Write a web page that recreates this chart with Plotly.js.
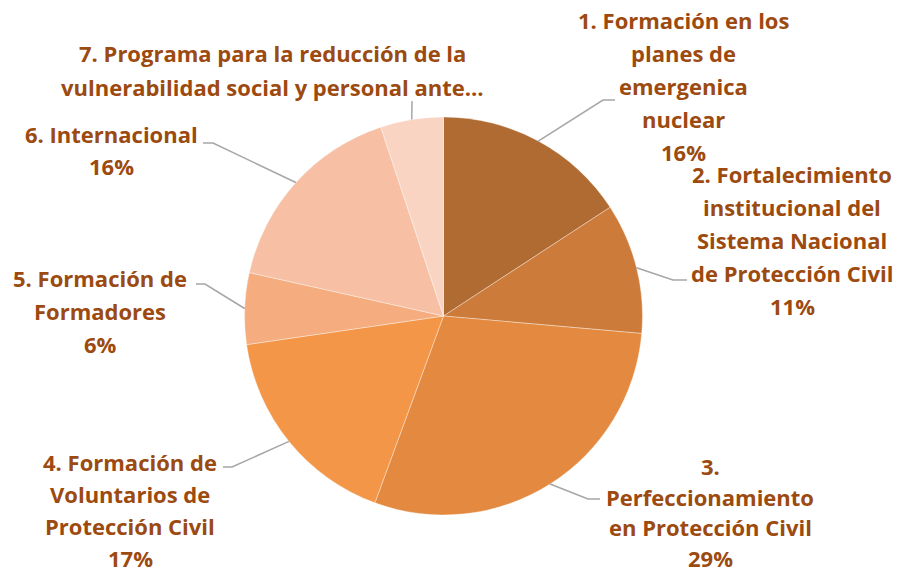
<!DOCTYPE html>
<html>
<head>
<meta charset="utf-8">
<script src="https://cdn.plot.ly/plotly-3.0.1.min.js"></script>
<style>html,body{margin:0;padding:0;background:#fff;}#chart{width:898px;height:572px;}</style>
</head>
<body>
<div id="chart"></div>
<script>
// Data
const categories = [
  "1. Formación en los planes de emergenica nuclear",
  "2. Fortalecimiento institucional del Sistema Nacional de Protección Civil",
  "3. Perfeccionamiento en Protección Civil",
  "4. Formación de Voluntarios de Protección Civil",
  "5. Formación de Formadores",
  "6. Internacional",
  "7. Programa para la reducción de la vulnerabilidad social y personal ante…"
];
const values = [15.8, 10.6, 29.2, 17.1, 5.8, 16.4, 5.1];
// label lines as displayed (wrapped like the reference)
const labelLines = [
  ["1. Formación en los", "planes de", "emergenica", "nuclear"],
  ["2. Fortalecimiento", "institucional del", "Sistema Nacional", "de Protección Civil"],
  ["3.", "Perfeccionamiento", "en Protección Civil"],
  ["4. Formación de", "Voluntarios de", "Protección Civil"],
  ["5. Formación de", "Formadores"],
  ["6. Internacional"],
  ["7. Programa para la reducción de la", "vulnerabilidad social y personal ante…"]
];
const showPercent = [true, true, true, true, true, true, false];
const colors = ["#AF6B31", "#CC7B3A", "#E38940", "#F49648", "#F5AD7F", "#F7C0A5", "#F9D4C3"];

// Layout (pixels)
const W = 898, H = 572;
const cx = 443.5, cy = 316, R = 199;
const labelPos = [
  {x: 683, y: 20, dy: 33},
  {x: 792, y: 174, dy: 33},
  {x: 710, y: 466, dy: 30.7},
  {x: 130, y: 462, dy: 32},
  {x: 100, y: 278, dy: 33},
  {x: 111, y: 134, dy: 32},
  {x: 272, y: 53, dy: 34}
];
const leaders = [
  [[603, 100], [615, 100]],
  [[673, 280], [687, 280]],
  [[588, 499], [600, 499]],
  [[232, 467], [223, 467]],
  [[205, 284], [196, 284]],
  [[213, 143], [203, 143]],
  [[412, 101], [412, 101]]
];

const total = values.reduce((a, b) => a + b, 0);
const px = x => x / W;
const py = y => 1 - y / H;

const annotations = [];
const shapes = [];
let cum = 0;
values.forEach((v, i) => {
  const mid = (cum + v / 2) / total * 2 * Math.PI;
  cum += v;
  const ex = cx + R * Math.sin(mid), ey = cy - R * Math.cos(mid);
  const pts = [[ex, ey]].concat(leaders[i]);
  const path = "M " + pts.map(p => px(p[0]) + "," + py(p[1])).join(" L ");
  shapes.push({type: "path", xref: "paper", yref: "paper", path: path,
    line: {color: "#A6A6A6", width: 1.5}});
  const lines = labelLines[i].concat(showPercent[i] ? [Math.round(v / total * 100) + "%"] : []);
  const lp = labelPos[i];
  lines.forEach((t, k) => {
    annotations.push({xref: "paper", yref: "paper", x: px(lp.x), y: py(lp.y + k * lp.dy),
      xanchor: "center", yanchor: "middle", showarrow: false, text: t,
      font: {family: "'Open Sans', sans-serif", size: 22, color: "#9C4A0F", weight: "bold"}});
  });
});

const trace = {
  type: "pie",
  labels: categories,
  values: values,
  sort: false,
  direction: "clockwise",
  rotation: 0,
  textinfo: "none",
  hoverinfo: "label+percent",
  marker: {colors: colors, line: {color: "rgba(255,255,255,0.45)", width: 0.8}},
  domain: {x: [(cx - R) / W, (cx + R) / W], y: [(H - cy - R) / H, (H - cy + R) / H]},
  showlegend: false
};

Plotly.newPlot("chart", [trace], {
  width: W, height: H,
  margin: {l: 0, r: 0, t: 0, b: 0},
  paper_bgcolor: "#fff",
  showlegend: false,
  annotations: annotations,
  shapes: shapes
}, {displayModeBar: false, staticPlot: true});
</script>
</body>
</html>
